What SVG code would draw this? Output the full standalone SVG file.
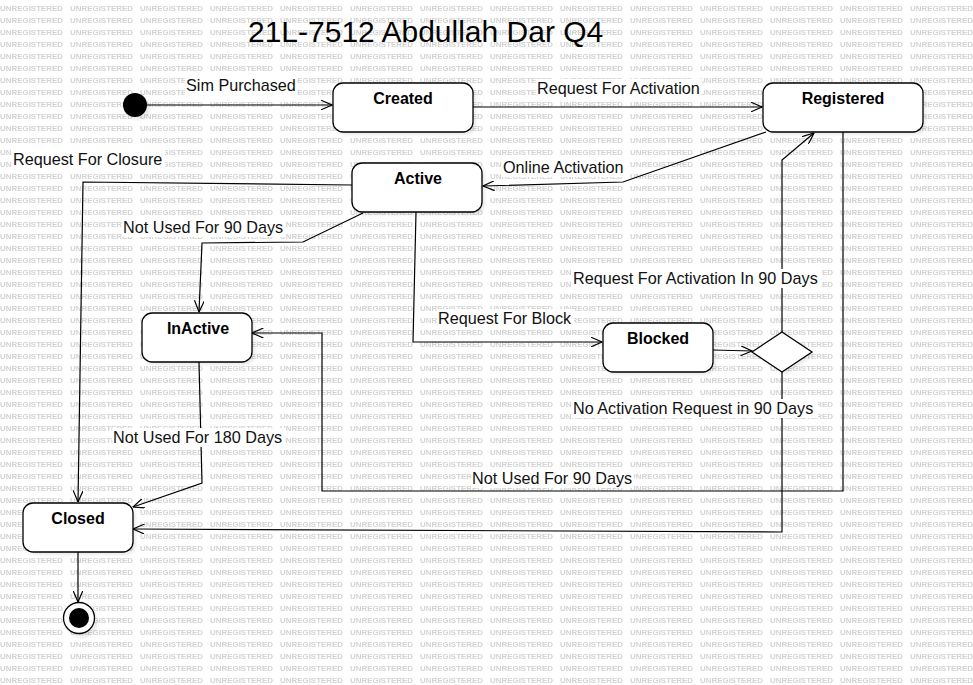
<svg xmlns="http://www.w3.org/2000/svg" width="973" height="685" viewBox="0 0 973 685">
<style>
.wm{font-family:"Liberation Sans",Arial,sans-serif;font-size:8px;font-weight:bold;fill:#d3d3d3}
.node{fill:#fff;stroke:#000;stroke-width:1.3}
.shadow{fill:#000;opacity:0.08}
.name{font-family:"Liberation Sans",Arial,sans-serif;font-size:16px;font-weight:bold;fill:#000;text-anchor:middle}
.lbl{font-family:"Liberation Sans",Arial,sans-serif;font-size:16.2px;fill:#111}
.lblbg{fill:#fff}
.edge{fill:none;stroke:#000;stroke-width:1.2;marker-end:url(#arr)}
.title{font-family:"Liberation Sans",Arial,sans-serif;font-size:30px;fill:#000}
</style>
<defs>
<pattern id="wmp" x="0" y="0" width="70" height="12" patternUnits="userSpaceOnUse">
<text class="wm" x="0" y="11" textLength="63" lengthAdjust="spacingAndGlyphs">UNREGISTERED</text>
</pattern>
<filter id="blur" x="-20%" y="-20%" width="140%" height="140%"><feGaussianBlur stdDeviation="1.5"/></filter>
<marker id="arr" viewBox="0 0 12 10" refX="11.5" refY="5" markerWidth="12" markerHeight="10" markerUnits="userSpaceOnUse" orient="auto">
<path d="M0,0 L11.5,5 L0,10" fill="none" stroke="#000" stroke-width="1.2"/>
</marker>
</defs>
<rect width="973" height="685" fill="#fff"/>
<rect width="973" height="685" fill="url(#wmp)"/>
<text class="title" x="248" y="42">21L-7512 Abdullah Dar Q4</text>

<g id="connectors">
<path class="edge" d="M147,105 L332,105"/>
<path class="edge" d="M473,107 L762,107"/>
<path class="edge" d="M766,132 L623,182 L483,186"/>
<path class="edge" d="M352,185 L83,182 L78,502"/>
<path class="edge" d="M363,213 L303,242 L202,243 L199,312"/>
<path class="edge" d="M416,212 L413,342 L602,342"/>
<path class="edge" d="M713,350 L752,351"/>
<path class="edge" d="M782,332 L782,160 L814,133"/>
<path class="edge" d="M782,372 L782,532 L133,529"/>
<path class="edge" d="M843,132 L843,491 L322,491 L322,333 L252,333"/>
<path class="edge" d="M199,362 L202,483 L133,507"/>
<path class="edge" d="M78,552 L78,602"/>
<g id="labels">
<rect class="lblbg" x="185" y="76" width="112" height="19"/><text class="lbl" x="186" y="91">Sim Purchased</text>
<rect class="lblbg" x="536" y="79" width="166" height="19"/><text class="lbl" x="537" y="94">Request For Activation</text>
<rect class="lblbg" x="502" y="158" width="124" height="19"/><text class="lbl" x="503" y="173">Online Activation</text>
<rect class="lblbg" x="12" y="150" width="153" height="19"/><text class="lbl" x="13" y="165">Request For Closure</text>
<rect class="lblbg" x="122" y="218" width="164" height="19"/><text class="lbl" x="123" y="233">Not Used For 90 Days</text>
<rect class="lblbg" x="572" y="269" width="250" height="19"/><text class="lbl" x="573" y="284">Request For Activation In 90 Days</text>
<rect class="lblbg" x="437" y="309" width="137" height="19"/><text class="lbl" x="438" y="324">Request For Block</text>
<rect class="lblbg" x="572" y="399" width="246" height="19"/><text class="lbl" x="573" y="414">No Activation Request in 90 Days</text>
<rect class="lblbg" x="112" y="428" width="173" height="19"/><text class="lbl" x="113" y="443">Not Used For 180 Days</text>
<rect class="lblbg" x="471" y="469" width="163" height="19"/><text class="lbl" x="472" y="484">Not Used For 90 Days</text>
</g>
</g>

<g id="initial">
<circle cx="138" cy="108" r="12" class="shadow" filter="url(#blur)"/>
<circle cx="135" cy="105" r="12" fill="#000"/>
</g>
<g id="created">
<rect class="shadow" x="336" y="86" width="140" height="49" rx="10" filter="url(#blur)"/>
<rect class="node" x="333" y="83" width="140" height="49" rx="10"/>
<text class="name" x="403" y="104">Created</text>
</g>
<g id="registered">
<rect class="shadow" x="766" y="86" width="160" height="49" rx="10" filter="url(#blur)"/>
<rect class="node" x="763" y="83" width="160" height="49" rx="10"/>
<text class="name" x="843" y="104">Registered</text>
</g>
<g id="active">
<rect class="shadow" x="355" y="166" width="130" height="49" rx="10" filter="url(#blur)"/>
<rect class="node" x="352" y="163" width="130" height="49" rx="10"/>
<text class="name" x="418" y="184">Active</text>
</g>
<g id="inactive">
<rect class="shadow" x="145" y="316" width="110" height="49" rx="10" filter="url(#blur)"/>
<rect class="node" x="142" y="313" width="110" height="49" rx="10"/>
<text class="name" x="198" y="334">InActive</text>
</g>
<g id="blocked">
<rect class="shadow" x="606" y="326" width="110" height="49" rx="10" filter="url(#blur)"/>
<rect class="node" x="603" y="323" width="110" height="49" rx="10"/>
<text class="name" x="658" y="344">Blocked</text>
</g>
<g id="decision">
<polygon class="shadow" points="755,355 785,335 815,355 785,375" filter="url(#blur)"/>
<polygon class="node" points="752,352 782,332 812,352 782,372"/>
</g>
<g id="closed">
<rect class="shadow" x="26" y="506" width="110" height="49" rx="10" filter="url(#blur)"/>
<rect class="node" x="23" y="503" width="110" height="49" rx="10"/>
<text class="name" x="78" y="524">Closed</text>
</g>
<g id="final">
<circle cx="82" cy="622" r="16" class="shadow" filter="url(#blur)"/>
<circle cx="79" cy="618" r="15.5" class="node"/>
<circle cx="79" cy="618" r="10" fill="#000"/>
</g>
</svg>
